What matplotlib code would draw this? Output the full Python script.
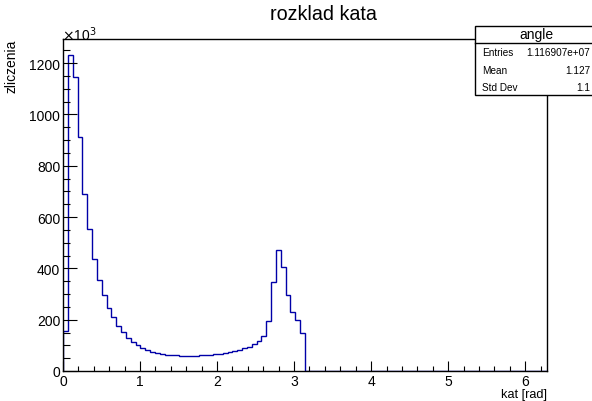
import numpy as np
import matplotlib
matplotlib.use("Agg")
import matplotlib.pyplot as plt
from matplotlib.ticker import MultipleLocator

plt.rcParams['font.family'] = ['Liberation Sans', 'DejaVu Sans']

# counts per bin, in units of 10^3 (100 bins on [0, 2pi], only first 50 filled)
counts_k = [155, 1232, 1146, 911, 688, 555, 437, 354, 297, 247,
            211, 177, 153, 130, 113, 100, 89, 81, 75, 70,
            67, 64, 62, 61, 60, 60, 60, 60, 61, 62,
            63, 65, 67, 70, 73, 77, 82, 88, 95, 104,
            118, 138, 193, 348, 472, 407, 298, 230, 197, 148]
n_bins = 100
x_min, x_max = 0.0, 2 * np.pi

title = "rozklad kata"
x_label = "kat [rad]"
y_label = "zliczenia"
stat_name = "angle"
stat_rows = [("Entries", "1.116907e+07"), ("Mean", "1.127"), ("Std Dev", "1.1")]

W, H = 592, 402
fig = plt.figure(figsize=(W / 100, H / 100), dpi=100)
ax = fig.add_axes([63 / W, 30 / H, 484 / W, 332 / H])

counts = np.zeros(n_bins)
counts[:len(counts_k)] = counts_k
edges = np.linspace(x_min, x_max, n_bins + 1)
ax.stairs(counts, edges, color='#0000a8', linewidth=1.0, baseline=0)

ax.set_xlim(x_min, x_max)
ax.set_ylim(0, 1.05 * max(counts_k))

for s in ax.spines.values():
    s.set_linewidth(1.0)
    s.set_color('black')

# ROOT-like ticks: inside, bottom and left only
ax.xaxis.set_major_locator(MultipleLocator(1))
ax.xaxis.set_minor_locator(MultipleLocator(0.2))
ax.yaxis.set_major_locator(MultipleLocator(200))
ax.yaxis.set_minor_locator(MultipleLocator(50))
ax.tick_params(axis='x', which='major', direction='in', length=7.2, width=0.8,
               labelsize=10, pad=2)
ax.tick_params(axis='x', which='minor', direction='in', length=3.6, width=0.8)
ax.tick_params(axis='y', which='major', direction='in', length=10.4, width=0.8,
               labelsize=10, pad=2)
ax.tick_params(axis='y', which='minor', direction='in', length=5.2, width=0.8)

fig.text(323 / W, 1 - 15 / H, title, ha='center', va='center', fontsize=14.2)

fig.text(547 / W, 1 - 395.5 / H, x_label, ha='right', va='center', fontsize=9.2)
fig.text(12 / W, 1 - 40 / H, y_label, ha='center', va='top', rotation=90, fontsize=10)
fig.text(62 / W, 1 - 35 / H, r'$\times$10$^{3}$', ha='left', va='center', fontsize=10)

# stats box
bx0, bx1, by0, by1, byh = 475, 593, 27, 96, 44
box = plt.Rectangle((bx0 / W, 1 - by1 / H), (bx1 - bx0) / W, (by1 - by0) / H,
                    transform=fig.transFigure, facecolor='white', edgecolor='black',
                    linewidth=1.0, zorder=5)
fig.add_artist(box)
fig.add_artist(plt.Line2D([bx0 / W, bx1 / W], [1 - byh / H, 1 - byh / H],
                          transform=fig.transFigure, color='black', linewidth=1.0, zorder=6))
fig.text((bx0 + 61) / W, 1 - 35 / H, stat_name, ha='center', va='center',
         fontsize=10, zorder=7)
for i, (lab, val) in enumerate(stat_rows):
    yy = 1 - (53 + 17.5 * i) / H
    fig.text(482 / W, yy, lab, ha='left', va='center', fontsize=7.2, zorder=7)
    fig.text(590 / W, yy, val, ha='right', va='center', fontsize=7.2, zorder=7)

fig.savefig('out.png', dpi=100)
